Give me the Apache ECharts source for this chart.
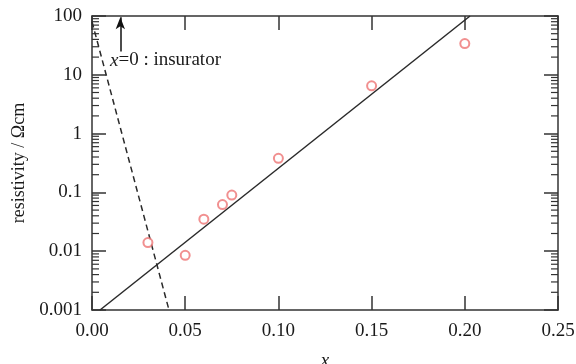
<!DOCTYPE html>
<html>
<head>
<meta charset="utf-8">
<script src="https://cdn.jsdelivr.net/npm/echarts@6/dist/echarts.min.js"></script>
<style>
html,body{margin:0;padding:0;background:#fff;}
#chart{width:576px;height:364px;}
</style>
</head>
<body>
<div id="chart"></div>
<script>
// ---- data ----
const xTickLabels = ['0.00', '0.05', '0.10', '0.15', '0.20', '0.25'];
const yTickLabels = ['0.001', '0.01', '0.1', '1', '10', '100'];
const sampleX = [0.03, 0.05, 0.06, 0.07, 0.075, 0.10, 0.15, 0.20];
const sampleRho = [0.014, 0.0085, 0.035, 0.062, 0.09, 0.38, 6.5, 34];
const fitX = [0.0043, 0.2028];
const fitRho = [0.001, 100];
const insX = [0.0, 0.0413];
const insRho = [80, 0.001];
const arrowX = [0.0152, 0.0152];
const arrowRho = [25, 95];
const minorMant = [2, 3, 4, 5, 6, 7, 8, 9];
const decades = [0.001, 0.01, 0.1, 1, 10];

const zip = (a, b) => a.map((v, i) => [v, b[i]]);
const minorVals = [];
decades.forEach(d => minorMant.forEach(m => minorVals.push([0, m * d])));

const FONT = '"Liberation Serif", "Times New Roman", serif';
const AX = '#333';
const TXT = '#1a1a1a';

function yLabel(v) {
  for (const l of yTickLabels) {
    if (Math.abs(Math.log10(v) - Math.log10(parseFloat(l))) < 1e-6) return l;
  }
  return '';
}
function xLabel(v) {
  for (const l of xTickLabels) {
    if (Math.abs(v - parseFloat(l)) < 1e-9) return l;
  }
  return '';
}

const chart = echarts.init(document.getElementById('chart'), null, {renderer: 'canvas'});
const option = {
  animation: false,
  backgroundColor: '#fff',
  grid: {left: 92, right: 18, top: 16, bottom: 54, containLabel: false, outerBoundsMode: 'none'},
  xAxis: [{
    type: 'value', min: 0, max: 0.25, interval: 0.05,
    name: 'x', nameLocation: 'middle', nameGap: 41,
    nameTextStyle: {fontFamily: FONT, fontSize: 19, fontStyle: 'italic', color: TXT},
    axisLine: {show: true, onZero: false, lineStyle: {color: AX, width: 1.5}},
    axisTick: {show: true, inside: true, length: 14, lineStyle: {color: AX, width: 1.5}},
    axisLabel: {fontFamily: FONT, fontSize: 19, color: TXT, margin: 12, formatter: xLabel},
    splitLine: {show: false}
  }, {
    type: 'value', min: 0, max: 0.25, interval: 0.05, position: 'top',
    axisLine: {show: true, onZero: false, lineStyle: {color: AX, width: 1.5}},
    axisTick: {show: true, inside: true, length: 14, lineStyle: {color: AX, width: 1.5}},
    axisLabel: {show: false},
    splitLine: {show: false}
  }],
  yAxis: [{
    type: 'log', logBase: 10, min: 0.001, max: 100, interval: 1,
    name: 'resistivity / Ωcm', nameLocation: 'middle', nameGap: 61, nameRotate: 90,
    nameTextStyle: {fontFamily: FONT, fontSize: 18, color: TXT},
    axisLine: {show: true, onZero: false, lineStyle: {color: AX, width: 1.5}},
    axisTick: {show: true, inside: true, length: 14, lineStyle: {color: AX, width: 1.5}},
    axisLabel: {fontFamily: FONT, fontSize: 19, color: TXT, margin: 10, formatter: yLabel},
    minorTick: {show: false},
    splitLine: {show: false}
  }, {
    type: 'log', logBase: 10, min: 0.001, max: 100, interval: 1, position: 'right',
    axisLine: {show: true, onZero: false, lineStyle: {color: AX, width: 1.5}},
    axisTick: {show: true, inside: true, length: 14, lineStyle: {color: AX, width: 1.5}},
    axisLabel: {show: false},
    splitLine: {show: false}
  }],
  series: [
    {
      type: 'custom', xAxisIndex: 0, yAxisIndex: 0, silent: true,
      data: minorVals,
      renderItem: function (params, api) {
        const v = api.value(1);
        const pL = api.coord([0, v]);
        const pR = api.coord([0.25, v]);
        const st = {stroke: AX, lineWidth: 1.2};
        return {
          type: 'group', children: [
            {type: 'line', shape: {x1: pL[0], y1: pL[1], x2: pL[0] + 7, y2: pL[1]}, style: st},
            {type: 'line', shape: {x1: pR[0], y1: pR[1], x2: pR[0] - 7, y2: pR[1]}, style: st}
          ]
        };
      },
      clip: false, z: 1
    },
    {
      type: 'line', data: zip(fitX, fitRho), showSymbol: false, symbol: 'none',
      lineStyle: {color: '#2a2a2a', width: 1.5}, z: 3
    },
    {
      type: 'line', data: zip(insX, insRho), showSymbol: false, symbol: 'none',
      lineStyle: {color: '#2a2a2a', width: 1.5, type: [6, 4]}, z: 3
    },
    {
      type: 'scatter', data: zip(sampleX, sampleRho), symbol: 'emptyCircle', symbolSize: 9,
      itemStyle: {color: '#ee7474', borderColor: '#ee7474', borderWidth: 1.3}, z: 4
    },
    {
      type: 'line', data: [], symbol: 'none',
      markLine: {
        silent: true, animation: false,
        symbol: ['none', 'arrow'], symbolSize: [7, 12],
        lineStyle: {color: '#111', width: 1.5, type: 'solid'},
        label: {show: false},
        data: [[{coord: [arrowX[0], arrowRho[0]]}, {coord: [arrowX[1], arrowRho[1]]}]]
      }
    }
  ],
  graphic: [{
    type: 'text', left: 110, top: 51,
    style: {
      rich: {
        i: {fontFamily: FONT, fontSize: 19, fontStyle: 'italic', fill: TXT},
        n: {fontFamily: FONT, fontSize: 19, fill: TXT}
      },
      text: '{i|x}{n|=0 : insurator}'
    }
  }]
};
chart.setOption(option);
</script>
</body>
</html>
